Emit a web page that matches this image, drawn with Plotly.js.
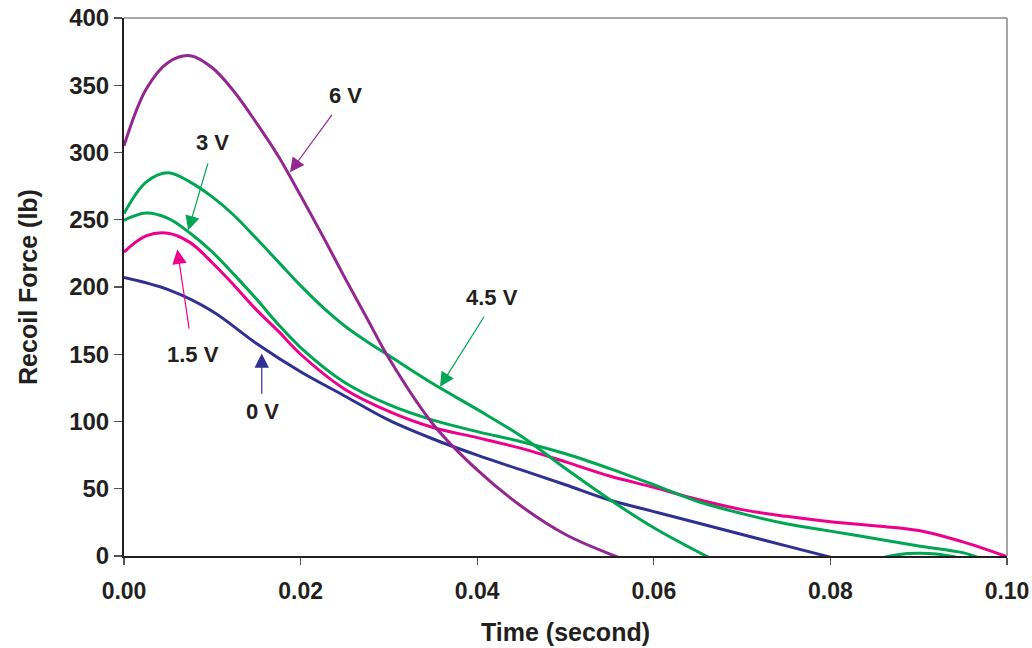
<!DOCTYPE html>
<html>
<head>
<meta charset="utf-8">
<script src="https://cdn.plot.ly/plotly-3.0.1.min.js"></script>
<style>html,body{margin:0;padding:0;background:#fff;}#chart{width:1032px;height:648px;}</style>
</head>
<body>
<div id="chart"></div>
<script>
// Time (s) and recoil force (lb) for each applied voltage
const t0V = [0, 0.005, 0.01, 0.015, 0.02, 0.025, 0.03, 0.035, 0.04, 0.045, 0.05, 0.055, 0.06, 0.065, 0.07, 0.075, 0.0801];
const f0V = [207, 198, 182, 158, 137, 119, 101, 87, 75, 64, 53, 41.6, 33, 24.5, 16, 7.5, -1];

const t15V = [0, 0.0025, 0.005, 0.0075, 0.01, 0.0125, 0.015, 0.0175, 0.02, 0.025, 0.03, 0.035, 0.04, 0.045, 0.05, 0.055, 0.06, 0.065, 0.07, 0.075, 0.08, 0.085, 0.09, 0.095, 0.1];
const f15V = [226, 238, 240, 233, 218, 201, 183, 167, 150, 124, 107.5, 95.5, 88, 80, 70, 59.5, 51, 42, 34.5, 29.5, 25.5, 22.5, 19, 10.5, -0.5];

const t3V = [0, 0.0025, 0.005, 0.0075, 0.01, 0.0125, 0.015, 0.0175, 0.02, 0.025, 0.03, 0.035, 0.04, 0.045, 0.05, 0.055, 0.06, 0.065, 0.07, 0.075, 0.08, 0.085, 0.09, 0.095, 0.0967];
const f3V = [249.6, 255, 251, 240, 226, 209, 191, 172, 155, 129, 112.5, 101, 92.5, 85, 76, 65, 53, 40.5, 31.5, 24, 18.5, 13, 7.5, 2.5, -1];

const t45V = [0, 0.0025, 0.005, 0.0075, 0.01, 0.0125, 0.015, 0.0175, 0.02, 0.0225, 0.025, 0.0275, 0.03, 0.035, 0.04, 0.045, 0.05, 0.055, 0.06, 0.0662, null, 0.086, 0.0878, 0.0898, 0.092, 0.0944];
const f45V = [254.6, 278, 285, 278, 267, 253, 236, 218.5, 201, 185, 171, 159.5, 149, 128, 109, 89, 65, 42, 21, -1, null, -1, 1.2, 2, 1.5, -1];

const t6V = [0, 0.0025, 0.005, 0.0075, 0.01, 0.0125, 0.015, 0.0175, 0.02, 0.0225, 0.025, 0.0275, 0.03, 0.035, 0.04, 0.045, 0.05, 0.056];
const f6V = [305, 347, 367, 372, 363, 345, 322, 297, 268, 238, 207, 177, 147, 98, 64, 37, 16, -1];

const seriesNames = ['0 V', '1.5 V', '3 V', '4.5 V', '6 V'];
const seriesColors = ['#2E3192', '#EC008C', '#00A651', '#00A651', '#92278F'];
const xTicks = [0, 0.02, 0.04, 0.06, 0.08, 0.10];
const yTicks = [0, 50, 100, 150, 200, 250, 300, 350, 400];

// Curve labels and their pointer arrows (tail -> head)
const labelText = ['6 V', '3 V', '4.5 V', '1.5 V', '0 V'];
const labelX = [0.02503, 0.00997, 0.04168, 0.00781, 0.01563];
const labelY = [342.5, 307.6, 192.4, 150.1, 107.7];
const arrowTailX = [0.02367, 0.00955, 0.04088, 0.0074, 0.0156];
const arrowTailY = [329.1, 293, 179, 167.9, 119.6];
const arrowHeadX = [0.0188, 0.00728, 0.03579, 0.00604, 0.0156];
const arrowHeadY = [285.3, 242.2, 125.8, 227.9, 150.6];
const arrowColors = ['#92278F', '#00A651', '#00A651', '#EC008C', '#2E3192'];

const xs = [t0V, t15V, t3V, t45V, t6V];
const ys = [f0V, f15V, f3V, f45V, f6V];

const traces = xs.map((x, i) => ({
  x: x, y: ys[i], name: seriesNames[i], type: 'scatter', mode: 'lines',
  line: {color: seriesColors[i], width: 3, shape: 'spline', smoothing: 1},
  connectgaps: false, showlegend: false, hoverinfo: 'skip'
}));

const FONT = 'Liberation Sans, Arial, sans-serif';
const TXT = '#231F20';

const annotations = [];
labelText.forEach((t, i) => {
  annotations.push({x: labelX[i], y: labelY[i], xref: 'x', yref: 'y', text: '<b>' + t + '</b>',
    showarrow: false, font: {family: FONT, size: 22, color: TXT}, xanchor: 'center', yanchor: 'middle'});
  annotations.push({x: arrowHeadX[i], y: arrowHeadY[i], xref: 'x', yref: 'y',
    ax: arrowTailX[i], ay: arrowTailY[i], axref: 'x', ayref: 'y', text: '',
    showarrow: true, arrowhead: 2, arrowsize: 2.4, arrowwidth: 1.2, arrowcolor: arrowColors[i], standoff: 0});
});

const layout = {
  width: 1032, height: 648,
  margin: {l: 124, r: 25, t: 18, b: 92, pad: 0},
  paper_bgcolor: '#fff', plot_bgcolor: '#fff',
  font: {family: FONT, color: TXT},
  xaxis: {
    range: [0, 0.1], tickvals: xTicks, tickformat: '.2f',
    showgrid: false, zeroline: false, showline: true, linecolor: '#231F20', linewidth: 2,
    ticks: 'outside', ticklen: 7, tickcolor: '#555', tickwidth: 1.2,
    tickfont: {family: FONT, size: 23, color: TXT, weight: 'bold'},
    ticklabelstandoff: 6,
    title: {text: '<b>Time (second)</b>', font: {family: FONT, size: 25, color: TXT}, standoff: 21},
    automargin: false
  },
  yaxis: {
    range: [0, 400], tickvals: yTicks,
    showgrid: false, zeroline: false, showline: true, linecolor: '#231F20', linewidth: 2,
    ticks: 'outside', ticklen: 8, tickcolor: '#555', tickwidth: 1.2,
    tickfont: {family: FONT, size: 24, color: TXT, weight: 'bold'},
    ticklabelstandoff: 0,
    title: {text: '<b>Recoil Force (lb)</b>', font: {family: FONT, size: 25, color: TXT}, standoff: 24},
    automargin: false
  },
  shapes: [
    {type: 'line', xref: 'paper', yref: 'paper', x0: 0, x1: 1, y0: 1, y1: 1, line: {color: '#888', width: 1.5}},
    {type: 'line', xref: 'paper', yref: 'paper', x0: 1, x1: 1, y0: 0, y1: 1, line: {color: '#888', width: 1.5}}
  ],
  annotations: annotations,
  showlegend: false
};

Plotly.newPlot('chart', traces, layout, {staticPlot: true, displayModeBar: false});
</script>
</body>
</html>
